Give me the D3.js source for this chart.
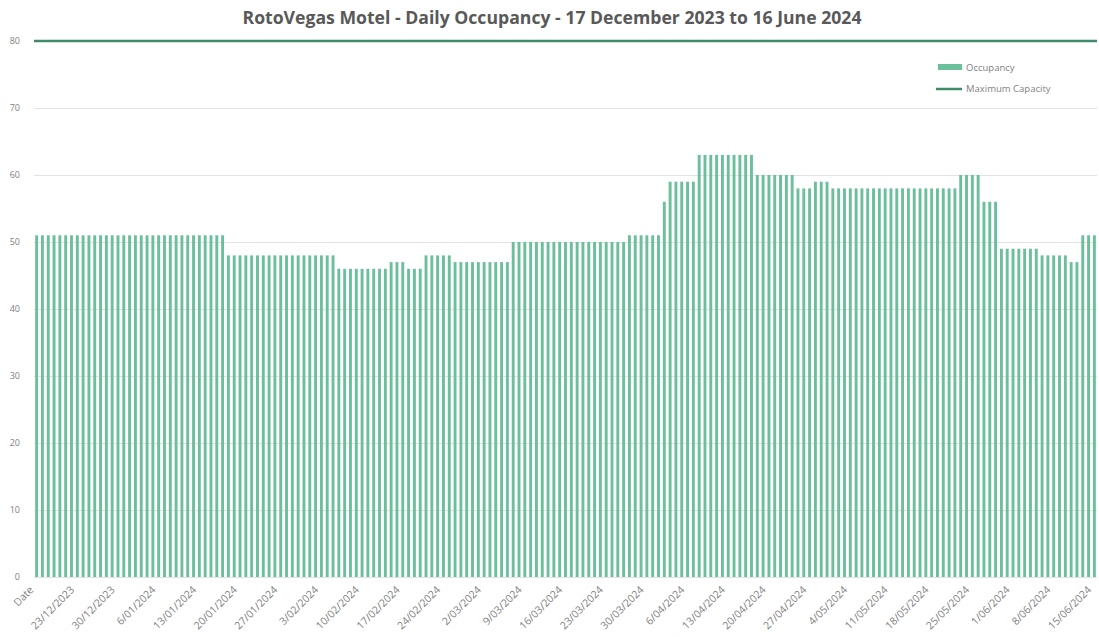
<html>
<head>
  <script src="https://cdn.jsdelivr.net/npm/d3@7/dist/d3.min.js"></script>
  <style>
      body { margin: 0; background: #fff; }
      text { font-family: "Open Sans", "Liberation Sans", sans-serif; fill: #595959; }
  </style>
</head>
<body>
<svg width="1099" height="637" id="chart"></svg>
<script>
  // first category is the header cell "Date", then one per day
  const dayFmt = d3.timeFormat("%-d/%m/%Y");
  const days = d3.timeDay.range(new Date(2023, 11, 17), new Date(2024, 5, 16));
  const categories = ["Date"].concat(days.map(dayFmt));

  // occupancy, one value per category (rows of 7 = one week)
  const occupancy = [
    51, 51, 51, 51, 51, 51, 51,
    51, 51, 51, 51, 51, 51, 51,
    51, 51, 51, 51, 51, 51, 51,
    51, 51, 51, 51, 51, 51, 51,
    51, 51, 51, 51, 51, 48, 48,
    48, 48, 48, 48, 48, 48, 48,
    48, 48, 48, 48, 48, 48, 48,
    48, 48, 48, 46, 46, 46, 46,
    46, 46, 46, 46, 46, 47, 47,
    47, 46, 46, 46, 48, 48, 48,
    48, 48, 47, 47, 47, 47, 47,
    47, 47, 47, 47, 47, 50, 50,
    50, 50, 50, 50, 50, 50, 50,
    50, 50, 50, 50, 50, 50, 50,
    50, 50, 50, 50, 51, 51, 51,
    51, 51, 51, 56, 59, 59, 59,
    59, 59, 63, 63, 63, 63, 63,
    63, 63, 63, 63, 63, 60, 60,
    60, 60, 60, 60, 60, 58, 58,
    58, 59, 59, 59, 58, 58, 58,
    58, 58, 58, 58, 58, 58, 58,
    58, 58, 58, 58, 58, 58, 58,
    58, 58, 58, 58, 58, 60, 60,
    60, 60, 56, 56, 56, 49, 49,
    49, 49, 49, 49, 49, 48, 48,
    48, 48, 48, 47, 47, 51, 51,
    51
  ];
  const maxCapacity = 80;
  const yTicks = [0, 10, 20, 30, 40, 50, 60, 70, 80];
  const legendItems = ["Occupancy", "Maximum Capacity"];

  const svg = d3.select("#chart");
  const margin = {top: 41, right: 2, bottom: 60, left: 34};
  const width = 1099, height = 637;

  const x = d3.scaleBand()
    .domain(d3.range(categories.length))
    .range([margin.left, width - margin.right])
    .paddingInner(0.5)
    .paddingOuter(0.2);

  const y = d3.scaleLinear()
    .domain([0, 80])
    .range([height - margin.bottom, margin.top]);

  // title
  svg.append("text")
    .attr("x", 552).attr("y", 24)
    .attr("text-anchor", "middle")
    .attr("font-size", 17).attr("font-weight", "bold")
    .attr("textLength", 619).attr("lengthAdjust", "spacingAndGlyphs")
    .style("fill", "#595959")
    .text("RotoVegas Motel - Daily Occupancy - 17 December 2023 to 16 June 2024");

  // gridlines + y labels
  const yAxis = svg.append("g").attr("transform", "translate(" + margin.left + ",0)")
    .call(d3.axisLeft(y).tickValues(yTicks).tickSize(-(width - margin.left - margin.right)).tickPadding(14));
  yAxis.select(".domain").remove();
  yAxis.selectAll(".tick line").attr("stroke", "#e3e3e3");
  yAxis.selectAll(".tick text").attr("font-size", 9).style("fill", "#7f7f7f")
    .attr("font-family", "Open Sans, sans-serif");

  // bars
  svg.append("g").selectAll("rect")
    .data(occupancy)
    .enter()
    .append("rect")
    .attr("x", (d, i) => x(i))
    .attr("width", x.bandwidth())
    .attr("y", d => y(d))
    .attr("height", d => y(0) - y(d))
    .attr("fill", "#6cbf9b");

  // maximum capacity line, across the whole plot
  svg.append("line")
    .attr("x1", margin.left).attr("x2", width - margin.right)
    .attr("y1", y(maxCapacity)).attr("y2", y(maxCapacity))
    .attr("stroke", "#3e8c6a").attr("stroke-width", 2.5);

  // x labels, one every 7 categories
  const xAxis = svg.append("g").attr("transform", "translate(0," + y(0) + ")")
    .call(d3.axisBottom(x)
      .tickValues(d3.range(0, categories.length, 7))
      .tickFormat(i => categories[i])
      .tickSize(0));
  xAxis.select(".domain").remove();
  xAxis.selectAll(".tick text")
    .attr("font-size", 10.5).style("fill", "#7f7f7f")
    .attr("text-anchor", "end")
    .attr("x", 0).attr("y", 0).attr("dy", "0.35em")
    .attr("transform", "translate(-5,11) rotate(-45)");

  // legend
  const lg = svg.append("g").attr("transform", "translate(938,0)");
  lg.append("rect").attr("x", 0).attr("y", 64).attr("width", 24).attr("height", 6).attr("fill", "#6cbf9b");
  lg.append("text").attr("x", 28).attr("y", 70.5).attr("font-size", 9.5).style("fill", "#7f7f7f").text(legendItems[0]);
  lg.append("line").attr("x1", -2).attr("x2", 24).attr("y1", 89).attr("y2", 89)
    .attr("stroke", "#3e8c6a").attr("stroke-width", 2.5);
  lg.append("text").attr("x", 28).attr("y", 92).attr("font-size", 9.5).style("fill", "#7f7f7f").text(legendItems[1]);
</script>
</body>
</html>
